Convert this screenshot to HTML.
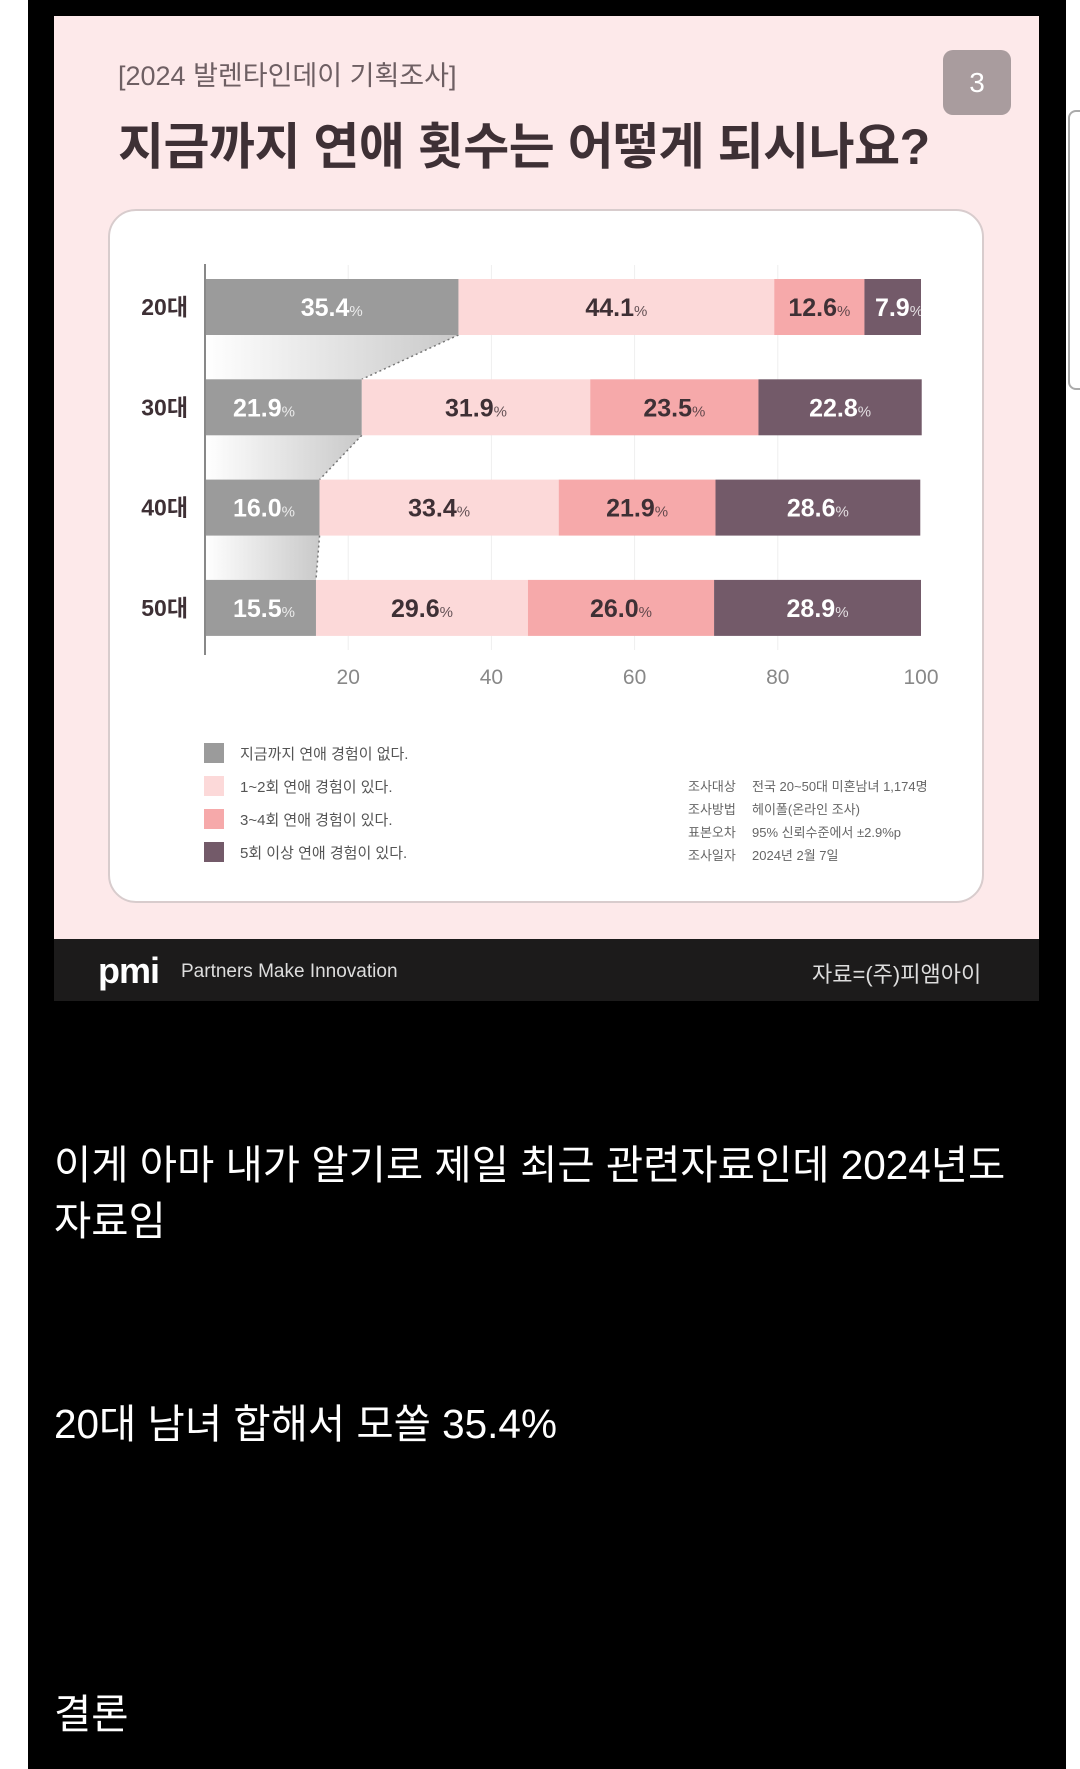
<!DOCTYPE html>
<html><head><meta charset="utf-8">
<style>
*{margin:0;padding:0;box-sizing:border-box}
body{width:1080px;height:1769px;background:#fff;position:relative;overflow:hidden;font-family:"Liberation Sans","Noto Sans CJK KR",sans-serif}
.abs{position:absolute}
</style></head><body>
<div class="abs" style="left:28px;top:0;width:1038px;height:1769px;background:#000"></div>
<div class="abs" style="left:1068px;top:110px;width:30px;height:280px;border:2px solid #aaa;border-radius:8px;background:#fff"></div>
<div class="abs" style="left:54px;top:16px;width:985px;height:923px;background:#fde9ea"></div>
<div class="abs" style="left:118px;top:54px;font-size:27px;color:#6e5f63">[2024 발렌타인데이 기획조사]</div>
<div class="abs" style="left:118px;top:107px;font-size:50px;font-weight:bold;color:#3e3035;letter-spacing:-0.5px">지금까지 연애 횟수는 어떻게 되시나요?</div>
<div class="abs" style="left:943px;top:50px;width:68px;height:65px;background:#a99c9e;border-radius:10px;color:#fff;font-size:28px;text-align:center;line-height:65px">3</div>
<div class="abs" style="left:108px;top:209px;width:876px;height:694px;background:#fff;border:2px solid #d8cccd;border-radius:28px"></div>
<svg class="abs" style="left:0;top:0" width="1080" height="1000" id="chart"></svg>
<div class="abs" style="left:54px;top:939px;width:985px;height:62px;background:#1c1b1b"></div>
<div class="abs" style="left:98px;top:950px;font-size:36px;font-weight:bold;color:#fff;letter-spacing:-1px">pmi</div>
<div class="abs" style="left:181px;top:961px;font-size:19px;color:#ddd">Partners Make Innovation</div>
<div class="abs" style="left:812px;top:957px;font-size:22px;color:#ddd">자료=(주)피앰아이</div>
<div class="abs" style="left:54px;top:1137px;font-size:40.5px;color:#fff;line-height:56px;width:1000px">이게 아마 내가 알기로 제일 최근 관련자료인데 2024년도<br>자료임</div>
<div class="abs" style="left:54px;top:1391px;font-size:40.5px;color:#fff">20대 남녀 합해서 모쏠 35.4%</div>
<div class="abs" style="left:54px;top:1681px;font-size:40.5px;color:#fff">결론</div>
<script>
const categories=["20대","30대","40대","50대"];
const none=[35.4,21.9,16.0,15.5];
const once=[44.1,31.9,33.4,29.6];
const three=[12.6,23.5,21.9,26.0];
const five=[7.9,22.8,28.6,28.9];
const ticks=[20,40,60,80,100];
const legendLabels=["지금까지 연애 경험이 없다.","1~2회 연애 경험이 있다.","3~4회 연애 경험이 있다.","5회 이상 연애 경험이 있다."];
const infoLabels=["조사대상","조사방법","표본오차","조사일자"];
const infoValues=["전국 20~50대 미혼남녀 1,174명","헤이폴(온라인 조사)","95% 신뢰수준에서 ±2.9%p","2024년 2월 7일"];
const colors=["#9b9b9b","#fcd9d9","#f6a9aa","#735a69"];
const textColors=["#fff","#3e3035","#3e3035","#fff"];
const series=[none,once,three,five];
const svg=document.getElementById('chart');
const NS="http://www.w3.org/2000/svg";
const x=v=>205+v*7.16;
const yTop=i=>279+i*100.3;
const bh=56;
function mk(t,a){const e=document.createElementNS(NS,t);for(const k in a)e.setAttribute(k,a[k]);svg.appendChild(e);return e;}
let defs=mk('defs',{});
defs.innerHTML='<linearGradient id="fg" x1="0" x2="1"><stop offset="0" stop-color="#fff"/><stop offset="1" stop-color="#c9c9c9"/></linearGradient>';
ticks.slice(0,4).forEach(t=>{const g=mk('line',{x1:x(t),x2:x(t),y1:265,y2:650,stroke:'#eee','stroke-width':1});});
for(let i=0;i<categories.length-1;i++){
 const p=mk('polygon',{points:`${x(0)},${yTop(i)+bh} ${x(none[i])},${yTop(i)+bh} ${x(none[i+1])},${yTop(i+1)} ${x(0)},${yTop(i+1)}`,fill:'url(#fg)'});
 
 
 const l=mk('line',{x1:x(none[i]),y1:yTop(i)+bh,x2:x(none[i+1]),y2:yTop(i+1),stroke:'#777','stroke-width':1.5,'stroke-dasharray':'2 3'});
 
 
}
categories.forEach((c,i)=>{
 let acc=0;
 const lab=mk('text',{x:188,y:yTop(i)+bh/2+8,'text-anchor':'end','font-size':23,'font-weight':'bold',fill:'#3e3035'});lab.textContent=c;
 
 
 series.forEach((s,j)=>{
  const v=s[i];
  const r=mk('rect',{x:x(acc),y:yTop(i),width:x(acc+v)-x(acc),height:bh,fill:colors[j]});
  
  
  let cx=x(acc+v/2);
  if(j==0&&i>0) cx=x(acc)+14+45;
  if(j==3&&v<10) cx=x(acc+v)-22;
  const t=mk('text',{x:cx,y:yTop(i)+bh/2+9,'text-anchor':'middle','font-size':25,'font-weight':'bold',fill:textColors[j]});
  t.innerHTML=v.toFixed(1)+'<tspan font-size="15" font-weight="normal" opacity="0.8">%</tspan>';
  
  
  acc+=v;
 });
});
const ax=mk('line',{x1:x(0),x2:x(0),y1:264,y2:655,stroke:'#888','stroke-width':2});


ticks.forEach(t=>{const e=mk('text',{x:x(t),y:684,'text-anchor':'middle','font-size':21,fill:'#888'});e.textContent=t;
 
 });
legendLabels.forEach((l,i)=>{
 const yy=752+i*33;
 const r=mk('rect',{x:204,y:yy-9,width:20,height:20,fill:colors[i]});
 
 
 const t=mk('text',{x:240,y:yy+7,'font-size':15,fill:'#555'});t.textContent=l;
 
 
});
infoLabels.forEach((l,i)=>{
 const yy=791+i*23;
 const a=mk('text',{x:688,y:yy,'font-size':13,fill:'#666'});a.textContent=l;
 
 
 const b=mk('text',{x:752,y:yy,'font-size':13,fill:'#666'});b.textContent=infoValues[i];
 
 
});
</script>
</body></html>
